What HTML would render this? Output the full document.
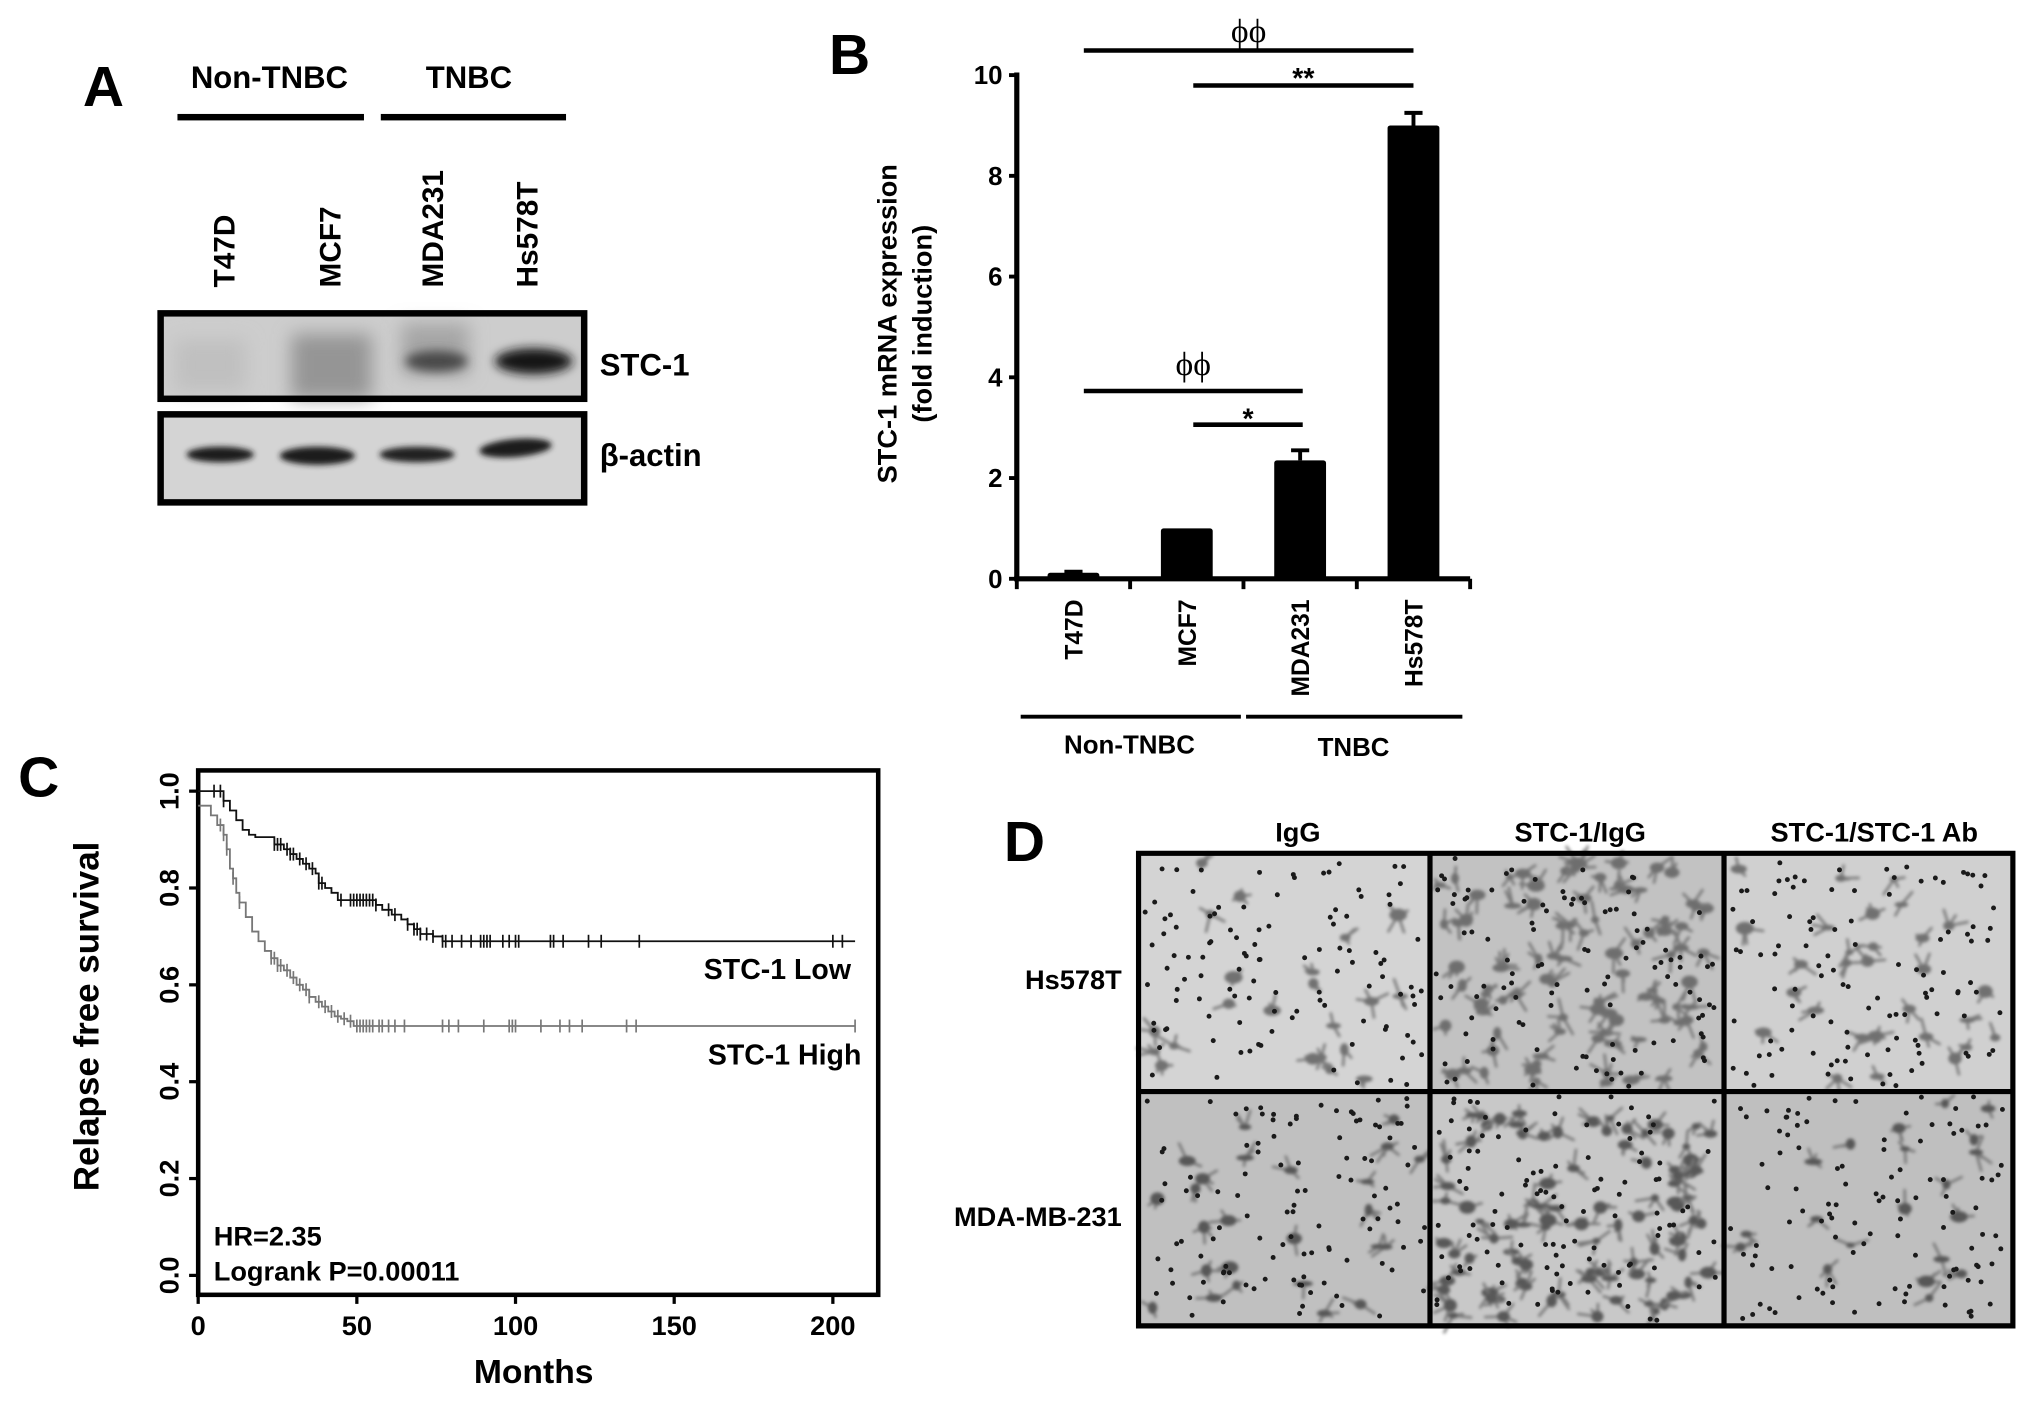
<!DOCTYPE html>
<html><head><meta charset="utf-8"><style>
html,body{margin:0;padding:0;background:#fff;}
svg{display:block;}
text{font-family:"Liberation Sans",Arial,sans-serif;font-weight:bold;fill:#000;}
.n{font-family:"Liberation Sans Narrow","Liberation Sans",sans-serif;}
</style></head><body>
<svg id="fig" xmlns="http://www.w3.org/2000/svg" width="2031" height="1401" viewBox="0 0 1568 1082" preserveAspectRatio="none">
<defs>
<filter id="blur6" x="-50%" y="-50%" width="200%" height="200%"><feGaussianBlur stdDeviation="7"/></filter>
<filter id="blur4" x="-50%" y="-50%" width="200%" height="200%"><feGaussianBlur stdDeviation="4"/></filter>
<filter id="blur2" x="-50%" y="-50%" width="200%" height="200%"><feGaussianBlur stdDeviation="2.2"/></filter>
<filter id="blur1"><feGaussianBlur stdDeviation="1.2"/></filter>
</defs>

<!-- Panel A -->
<g>
<text x="64" y="82" font-size="44">A</text>
<text x="208" y="68" font-size="24" text-anchor="middle" class="n">Non-TNBC</text>
<text x="362" y="68" font-size="24" text-anchor="middle" class="n">TNBC</text>
<rect x="137" y="88" width="144" height="5"/>
<rect x="294" y="88" width="143" height="5"/>
<text transform="translate(181,222) rotate(-90)" font-size="23">T47D</text>
<text transform="translate(263,222) rotate(-90)" font-size="23">MCF7</text>
<text transform="translate(342,222) rotate(-90)" font-size="23">MDA231</text>
<text transform="translate(415,222) rotate(-90)" font-size="23">Hs578T</text>
<g>
<rect x="124" y="242" width="327" height="66" fill="#cdcdcd"/>
<rect x="135" y="262" width="55" height="40" fill="#c0c0c0" filter="url(#blur6)"/>
<rect x="225" y="258" width="62" height="50" fill="#959595" filter="url(#blur6)"/>
<rect x="310" y="250" width="52" height="40" fill="#a5a5a5" filter="url(#blur6)"/>
<ellipse cx="337" cy="279" rx="24" ry="8" fill="#4a4a4a" filter="url(#blur4)"/>
<ellipse cx="412" cy="279" rx="30" ry="10" fill="#151515" filter="url(#blur4)"/>
<rect x="124" y="242" width="327" height="66" fill="none" stroke="#000" stroke-width="5"/>
</g>
<g>
<rect x="124" y="320" width="327" height="68" fill="#d4d4d4"/>
<ellipse cx="170" cy="351" rx="26" ry="6" fill="#1e1e1e" filter="url(#blur2)"/>
<ellipse cx="245" cy="352" rx="29" ry="7" fill="#1e1e1e" filter="url(#blur2)"/>
<ellipse cx="322" cy="351" rx="29" ry="6" fill="#222" filter="url(#blur2)"/>
<ellipse cx="398" cy="346" rx="28" ry="7" fill="#1e1e1e" filter="url(#blur2)" transform="rotate(-5 398 346)"/>
<rect x="124" y="320" width="327" height="68" fill="none" stroke="#000" stroke-width="5"/>
</g>
<text x="463" y="290" font-size="24" class="n">STC-1</text>
<text x="463" y="360" font-size="24" class="n">β-actin</text>
</g>

<!-- Panel B -->
<g id="panelB">
<text x="640" y="57" font-size="44">B</text>
<text transform="translate(692,250) rotate(-90)" font-size="21" text-anchor="middle">STC-1 mRNA expression</text>
<text transform="translate(719,250) rotate(-90)" font-size="21" text-anchor="middle">(fold induction)</text>
<g id="bAxis"></g>
<g id="bBars"></g>
<rect x="788" y="552" width="170" height="3"/>
<rect x="962" y="552" width="167" height="3"/>
<text x="872" y="582" font-size="20" text-anchor="middle">Non-TNBC</text>
<text x="1045" y="584" font-size="20" text-anchor="middle">TNBC</text>
</g>

<!-- Panel C -->
<g id="panelC">
<text x="14" y="615" font-size="44">C</text>
<text transform="translate(76,785) rotate(-90)" font-size="27" text-anchor="middle">Relapse free survival</text>
<text x="412" y="1068" font-size="26" text-anchor="middle">Months</text>
<g id="cAxis"></g>
<g id="cCurves"></g>
<text x="657" y="756" font-size="22" text-anchor="end" class="n">STC-1 Low</text>
<text x="665" y="822" font-size="22" text-anchor="end" class="n">STC-1 High</text>
<text x="165" y="962" font-size="21" class="n">HR=2.35</text>
<text x="165" y="989" font-size="21" class="n">Logrank P=0.00011</text>
</g>

<!-- Panel D -->
<g id="panelD">
<text x="775" y="665" font-size="44">D</text>
<text x="1002" y="650" font-size="21" text-anchor="middle" class="n">IgG</text>
<text x="1220" y="650" font-size="21" text-anchor="middle" class="n">STC-1/IgG</text>
<text x="1447" y="650" font-size="21" text-anchor="middle" class="n">STC-1/STC-1 Ab</text>
<text x="866" y="764" font-size="21" text-anchor="end" class="n">Hs578T</text>
<text x="866" y="947" font-size="21" text-anchor="end" class="n">MDA-MB-231</text>
<g id="dImgs"></g>
</g>
</svg>
<script>
// ---- Panel B data ----
const bCategories = ["T47D","MCF7","MDA231","Hs578T"];
const bValues = [0.12, 1.0, 2.35, 9.0];
const bErrors = [0.02, 0.0, 0.2, 0.25];
const bTicks = [0,2,4,6,8,10];
// ---- Panel C data ----
const lowTimes = [0,8,10,12,14,16,18,24,27,29,31,33,35,37,38,40,42,44,56,58,61,64,66,68,70,74,77,207];
const lowSurv  = [1.0,0.98,0.96,0.94,0.92,0.91,0.905,0.89,0.88,0.87,0.86,0.85,0.84,0.83,0.81,0.80,0.79,0.775,0.765,0.755,0.745,0.735,0.725,0.715,0.705,0.70,0.69,0.69];
const lowCensor = [5,7,8,24,25,26,28,29,30,32,34,36,38,39,45,48,49,50,51,52,53,54,55,56,60,62,66,68,69,70,72,74,77,78,80,83,86,89,90,91,92,96,98,100,101,111,112,115,123,127,139,200,203];
const highTimes = [0,4,6,8,9,10,11,12,13,15,17,19,21,23,25,27,29,31,33,35,37,39,41,43,45,47,49,207];
const highSurv  = [0.97,0.95,0.93,0.91,0.88,0.84,0.82,0.79,0.77,0.74,0.71,0.69,0.67,0.655,0.64,0.63,0.615,0.60,0.59,0.575,0.565,0.555,0.545,0.535,0.53,0.525,0.515,0.515];
const highCensor = [7,8,9,11,13,23,24,25,26,28,30,32,34,35,38,40,42,44,46,48,50,51,52,53,54,55,57,58,60,62,65,77,79,82,90,98,99,100,108,114,117,121,135,138,207];
const cXTicks = [0,50,100,150,200];
const cYTicks = [0.0,0.2,0.4,0.6,0.8,1.0];

const NS='http://www.w3.org/2000/svg';
function mk(tag, attrs, parent){const e=document.createElementNS(NS,tag);for(const k in attrs)e.setAttribute(k,attrs[k]);parent.appendChild(e);return e;}

// Panel B
(function(){
  const ax=document.getElementById('bAxis'), bars=document.getElementById('bBars');
  const x0=785, x1=1135, y0=447, y10=58;
  const yS=v=>y0-(y0-y10)*v/10;
  const step=(x1-x0)/bCategories.length;
  const xC=i=>x0+step*(i+0.5);
  let l=mk('line',{x1:x0,y1:y0,x2:x0,y2:y10-2,stroke:'#000','stroke-width':4},ax);
  
  
  l=mk('line',{x1:x0-2,y1:y0,x2:x1,y2:y0,stroke:'#000','stroke-width':4},ax);
  
  
  bTicks.forEach(t=>{
    const tk=mk('line',{x1:x0-6,y1:yS(t),x2:x0,y2:yS(t),stroke:'#000','stroke-width':3},ax);
    
    
    const tx=mk('text',{x:x0-11,y:yS(t)+7,'font-size':20,'text-anchor':'end'},ax);
    tx.textContent=t;
    
    
  });
  for(let i=0;i<=bCategories.length;i++){
    const tk=mk('line',{x1:x0+step*i,y1:y0,x2:x0+step*i,y2:y0+8,stroke:'#000','stroke-width':3},ax);
    
    
  }
  const bw=40;
  bCategories.forEach((c,i)=>{
    const xc=xC(i);
    if(bErrors[i]>0){
      const e=mk('path',{d:`M${xc},${yS(bValues[i])} V${yS(bValues[i]+bErrors[i])} M${xc-7},${yS(bValues[i]+bErrors[i])} H${xc+7}`,stroke:'#000','stroke-width':3,fill:'none'},bars);
      
      
    }
    const r=mk('rect',{x:xc-bw/2,y:yS(bValues[i]),width:bw,height:y0-yS(bValues[i]),fill:'#000',rx:2},bars);
    
    
    const t=mk('text',{transform:`translate(${xc+7},${y0+16}) rotate(-90)`,'font-size':19,'text-anchor':'end'},bars);
    t.textContent=c;
    
    
  });
  // significance
  const sig=[[0,3,39,'ϕϕ',24],[1,3,66,'**',56],[0,2,302,'ϕϕ',281],[1,2,328,'*',319]];
  sig.forEach(s=>{
    const a=s[0]===0?xC(0)+8:xC(1)+5, b=xC(s[1])+(s[1]===3?0:2);
    const ln=mk('line',{x1:a,y1:s[2],x2:b,y2:s[2],stroke:'#000','stroke-width':3.5},bars);
    
    
    const isPhi=s[3][0]==='ϕ';
    const tx=mk('text',{x:(a+b)/2,y:s[4]+(isPhi?9:12),'font-size':isPhi?26:22,'text-anchor':'middle',style:isPhi?'font-family:Liberation Serif,DejaVu Serif,serif;font-weight:normal':''},bars);
    tx.textContent=s[3];
    
    
  });
})();

// Panel C
(function(){
  const ax=document.getElementById('cAxis'), cv=document.getElementById('cCurves');
  const X0=153, pxPerMonth=2.45, Y0=985, Y1=611;
  const xS=m=>X0+m*pxPerMonth, yS=s=>Y0-(Y0-Y1)*s;
  const box=mk('rect',{x:153,y:595,width:525,height:405,fill:'none',stroke:'#000','stroke-width':3.5},ax);
  
  
  cXTicks.forEach(t=>{
    const tk=mk('line',{x1:xS(t),y1:1000,x2:xS(t),y2:1007,stroke:'#000','stroke-width':2.5},ax);
    
    
    const tx=mk('text',{x:xS(t),y:1031,'font-size':21,'text-anchor':'middle',class:'n'},ax);
    tx.textContent=t;
    
    
  });
  cYTicks.forEach(t=>{
    const tk=mk('line',{x1:146,y1:yS(t),x2:153,y2:yS(t),stroke:'#000','stroke-width':2.5},ax);
    
    
    const tx=mk('text',{transform:`translate(138,${yS(t)}) rotate(-90)`,'font-size':21,'text-anchor':'middle',class:'n'},ax);
    tx.textContent=t.toFixed(1);
    
    
  });
  function survAt(times,surv,m){let s=surv[0];for(let i=0;i<times.length;i++){if(times[i]<=m)s=surv[i];}return s;}
  function curve(times,surv,cens,color,name){
    let d=`M${xS(times[0])},${yS(surv[0])}`;
    for(let i=1;i<times.length;i++){d+=` H${xS(times[i])} V${yS(surv[i])}`;}
    const p=mk('path',{d:d,fill:'none',stroke:color,'stroke-width':1.4},cv);
    
    
    cens.forEach(m=>{
      const x=xS(m), y=yS(survAt(times,surv,m));
      const c=mk('line',{x1:x,y1:y-5,x2:x,y2:y+5,stroke:color,'stroke-width':1.3},cv);
      
      
    });
  }
  curve(highTimes,highSurv,highCensor,'#777','stc1-high');
  curve(lowTimes,lowSurv,lowCensor,'#111','stc1-low');
})();

// Panel D micrographs (texture)
(function(){
  const g=document.getElementById('dImgs');
  let seed=12345;const rnd=()=>{seed=(seed*16807)%2147483647;return seed/2147483647;};
  const cols=[[880,1103],[1105,1330],[1332,1553]], rows=[[660,842],[844,1023]];
  const density=[[22,90,30],[26,95,20]];
  const bgs=[['#d4d4d4','#c2c2c2','#d0d0d0'],['#c0c0c0','#c8c8c8','#bfbfbf']];
  rows.forEach((r,ri)=>cols.forEach((c,ci)=>{
    const w=c[1]-c[0], h=r[1]-r[0];
    const cell=mk('g',{},g);
    
    
    mk('rect',{x:c[0],y:r[0],width:w,height:h,fill:bgs[ri][ci]},cell);
    const blobs=mk('g',{filter:'url(#blur1)',opacity:0.85},cell);
    for(let i=0;i<density[ri][ci];i++){
      const cx=c[0]+6+rnd()*(w-12), cy=r[0]+6+rnd()*(h-12);
      const n=2+Math.floor(rnd()*3);let d='';
      for(let k=0;k<n;k++){const a=rnd()*6.28,L=5+rnd()*10;d+=`M${cx},${cy} L${cx+Math.cos(a)*L},${cy+Math.sin(a)*L} `;}
      mk('path',{d:d,stroke:'#6a6a6a','stroke-width':2,fill:'none','stroke-linecap':'round'},blobs);
      mk('ellipse',{cx:cx,cy:cy,rx:3+rnd()*4,ry:2+rnd()*3,fill:ri===1?'#454545':'#606060'},blobs);
    }
    for(let i=0;i<110;i++){
      mk('circle',{cx:c[0]+3+rnd()*(w-6),cy:r[0]+3+rnd()*(h-6),r:1.9,fill:'#1a1a1a'},cell);
    }
  }));
  const f=mk('path',{d:'M879,659 H1554 V1024 H879 Z M1104,659 V1024 M1331,659 V1024 M879,843 H1554',fill:'none',stroke:'#000','stroke-width':4},g);
  
  
})();
</script>
</body></html>
